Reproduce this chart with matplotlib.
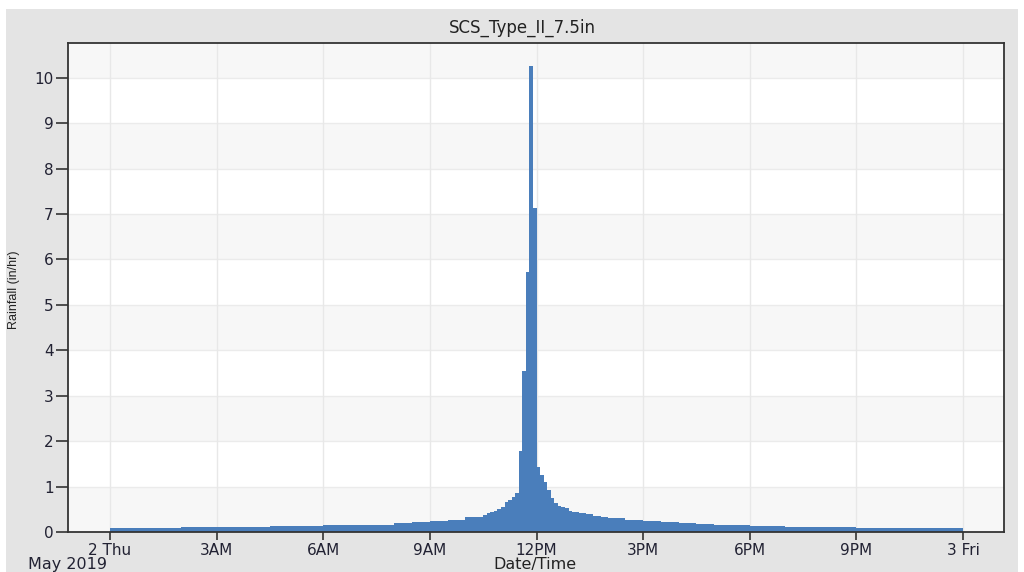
#!/usr/bin/env python3

import matplotlib
matplotlib.use('Agg')
import matplotlib.pyplot as plt
from matplotlib.patches import Rectangle


TITLE = 'SCS_Type_II_7.5in'
BAR_COLOUR = '#4a7ebb'

# bin edges, hours after 2 May 2019 00:00
edges = [0.0, 0.5, 1.0, 1.5, 2.0, 2.5, 3.0, 3.5, 4.0, 4.5, 5.0, 5.5, 6.0, 6.5,
         7.0, 7.5, 8.0, 8.5, 9.0, 9.5, 10.0,
         10.5, 10.6, 10.7, 10.8, 10.9, 11.0, 11.1, 11.2, 11.3, 11.4, 11.5, 11.6,
         11.7, 11.8, 11.9, 12.0, 12.1, 12.2, 12.3, 12.4, 12.5, 12.6, 12.7, 12.8,
         12.9, 13.0, 13.2, 13.4, 13.6, 13.8, 14.0,
         14.5, 15.0, 15.5, 16.0, 16.5, 17.0, 17.5, 18.0, 18.5, 19.0, 19.5, 20.0,
         20.5, 21.0, 21.5, 22.0, 22.5, 23.0, 23.5, 24.0]

# rainfall intensity, in/hr
rain = [0.085, 0.085, 0.088, 0.09, 0.10, 0.105, 0.108, 0.11, 0.115, 0.125,
        0.128, 0.13, 0.145, 0.148, 0.15, 0.155, 0.19, 0.22, 0.24, 0.27, 0.32,
        0.37, 0.42, 0.45, 0.47, 0.50, 0.54, 0.65, 0.70, 0.77, 0.86, 1.79, 3.55,
        5.72, 10.26, 7.13, 1.44, 1.26, 1.09, 0.92, 0.74, 0.63, 0.57, 0.55, 0.52,
        0.47, 0.43, 0.41, 0.39, 0.35, 0.33,
        0.30, 0.27, 0.24, 0.22, 0.19, 0.17, 0.15, 0.145, 0.135, 0.13, 0.115,
        0.11, 0.105, 0.10, 0.095, 0.09, 0.085, 0.082, 0.08, 0.078]

tick_hours = [0, 3, 6, 9, 12, 15, 18, 21, 24]
tick_labels = ['2 Thu', '3AM', '6AM', '9AM', '12PM', '3PM', '6PM', '9PM', '3 Fri']

plt.rcParams['font.family'] = ['DejaVu Sans']

W, H = 1024, 572
fig = plt.figure(figsize=(W / 100, H / 100), dpi=100, facecolor='white')
fig.patches.append(Rectangle((6 / W, 0), 1012 / W, (H - 9) / H,
                             transform=fig.transFigure, facecolor='#e4e4e4',
                             edgecolor='none', zorder=-10))

ax = fig.add_axes([68.3 / W, (H - 532) / H, (1004.3 - 68.3) / W, (532 - 43.3) / H])
ax.set_facecolor('white')
ax.set_xlim(-1.173, 25.16)
ax.set_ylim(0, 10.76)

# alternating bands
for k in range(0, 11, 2):
    ax.axhspan(k, k + 1, color='#f7f7f7', zorder=0, lw=0)
for k in range(1, 11):
    ax.axhline(k, color='#ebebeb', lw=1, zorder=0.5)
for h in tick_hours:
    ax.axvline(h, color='#e8e8e8', lw=1, zorder=0.5)

ax.stairs(rain, edges, fill=True, color=BAR_COLOUR, baseline=0, zorder=2)

ax.set_xticks(tick_hours)
ax.set_xticklabels(tick_labels)
ax.set_yticks(range(0, 11))
ax.tick_params(axis='y', length=8.6, width=1.2, color='#333333',
               labelsize=11, labelcolor='#222233', pad=2)
ax.tick_params(axis='x', length=6, width=1.2, color='#333333',
               labelsize=11, labelcolor='#222233', pad=2)
for s in ax.spines.values():
    s.set_color('#333333')
    s.set_linewidth(1.3)

fig.text(522 / W, 1 - 28 / H, TITLE, ha='center', va='center', fontsize=12,
         color='#222222')
fig.text(14 / W, 1 - 290 / H, 'Rainfall (in/hr)', rotation=90, ha='center',
         va='center', fontsize=9, color='#222222', family='Liberation Sans')
fig.text(535 / W, 1 - 565 / H, 'Date/Time', ha='center', va='center',
         fontsize=11.5, color='#222222')
fig.text(28 / W, 1 - 565 / H, 'May 2019', ha='left', va='center',
         fontsize=11.5, color='#222233')

fig.savefig('out.png', dpi=100, facecolor=fig.get_facecolor())
